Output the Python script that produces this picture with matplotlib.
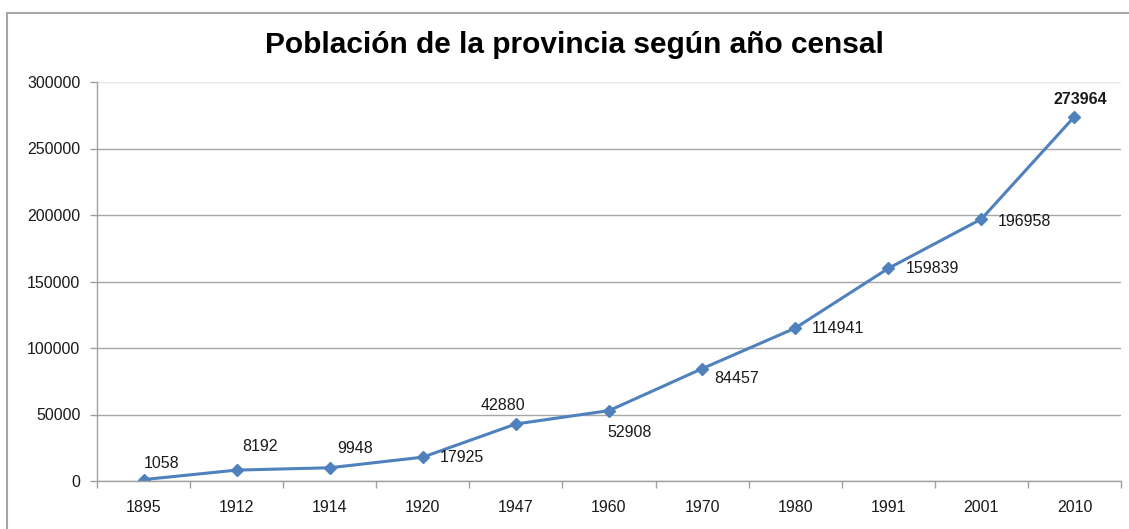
import matplotlib.pyplot as plt
from matplotlib.patches import Rectangle

years = ["1895", "1912", "1914", "1920", "1947", "1960", "1970", "1980", "1991", "2001", "2010"]
population = [1058, 8192, 9948, 17925, 42880, 52908, 84457, 114941, 159839, 196958, 273964]
y_ticks = [0, 50000, 100000, 150000, 200000, 250000, 300000]

# label offsets in pixels (dx, dy) relative to each point
label_offsets = [(18, 16), (23, 24), (25, 19), (39, 0), (-13, 18), (21, -22),
                 (35, -10), (43, 0), (44, 0), (43, -2), (6, 17)]

plt.rcParams['font.family'] = ['Liberation Sans', 'DejaVu Sans']

fig = plt.figure(figsize=(11.29, 5.29), dpi=100)
ax = fig.add_axes([97 / 1129, 48 / 529, 1024 / 1129, 399 / 529])

x = list(range(len(years)))
ax.plot(x, population, color="#4F81BD", lw=2.2, marker="D", markersize=6)

for i, (val, off) in enumerate(zip(population, label_offsets)):
    last = i == len(population) - 1
    ax.annotate(str(val), (x[i], val), xytext=off, textcoords="offset pixels",
                ha="center", va="center", fontsize=11.5,
                fontweight="bold" if last else "normal", color="#1A1A1A")

ax.set_xlim(-0.5, len(years) - 0.5)
ax.set_ylim(0, 300000)
ax.set_xticks(x)
ax.set_xticklabels(years)
ax.set_xticks([i - 0.5 for i in range(len(years) + 1)], minor=True)
ax.set_yticks(y_ticks)
ax.set_yticklabels([str(v) for v in y_ticks])

ax.tick_params(axis="x", which="major", length=0, pad=14, labelsize=11.5, labelcolor="#1A1A1A")
ax.tick_params(axis="x", which="minor", length=5, color="#A0A0A0", width=1)
ax.tick_params(axis="y", length=5, color="#A0A0A0", width=1, pad=7, labelsize=11.5, labelcolor="#1A1A1A")

ax.grid(axis="y", color="#A6A6A6", lw=1)
ax.get_ygridlines()[-1].set_color("#E6E6E6")
ax.set_axisbelow(True)
for s in ["top", "right"]:
    ax.spines[s].set_visible(False)
for s in ["left", "bottom"]:
    ax.spines[s].set_color("#A0A0A0")
    ax.spines[s].set_linewidth(1)

fig.text(574 / 1129, 1 - 45 / 529, "Población de la provincia según año censal",
         ha="center", va="center", fontsize=21.5, fontweight="bold")

# outer chart frame (right and bottom edges fall outside the image)
fig.add_artist(Rectangle((7 / 1129, -0.1), 1.1, 1.1 - 13 / 529,
                         transform=fig.transFigure, fill=False, edgecolor="#A6A6A6", lw=1.5))

fig.savefig("out.png", dpi=100)
